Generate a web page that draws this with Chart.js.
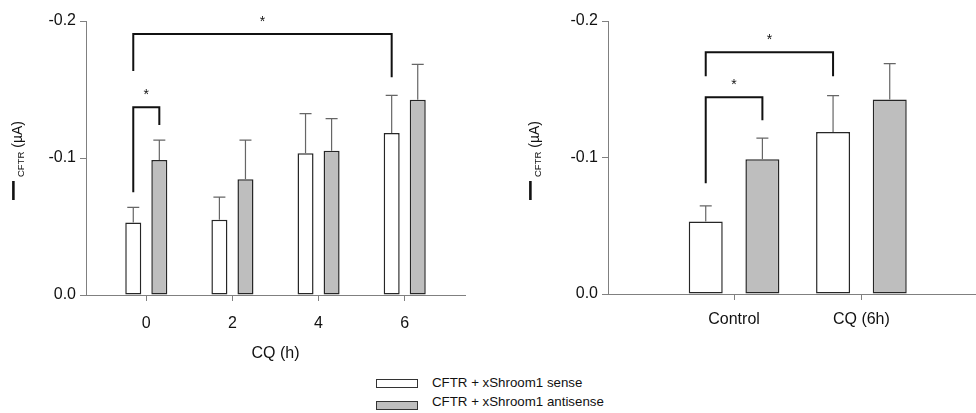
<!DOCTYPE html>
<html>
<head>
<meta charset="utf-8">
<script src="https://cdn.jsdelivr.net/npm/chart.js@4.4.1/dist/chart.umd.min.js"></script>
<style>
  body { margin: 0; width: 976px; height: 413px; overflow: hidden; background: #fff; position: relative;
         font-family: "Liberation Sans", Arial, sans-serif; }
  canvas { position: absolute; top: 0; }
  #left { left: 0; }
  #right { left: 500px; }
  .key { position: absolute; left: 376px; width: 40px; height: 7px; border: 1px solid #333; }
  .label { position: absolute; left: 432px; font-size: 13.3px; line-height: 16px; color: #111; white-space: nowrap; }
</style>
</head>
<body>
<canvas id="left" width="480" height="365"></canvas>
<canvas id="right" width="476" height="365"></canvas>
<div id="legend"></div>
<script>
// Left panel: CQ time course (values in µA, inward current is negative)
const hours = [0, 2, 4, 6];
const hourSense = [-0.053, -0.055, -0.1034, -0.1182];
const hourSenseSem = [0.011, 0.0165, 0.029, 0.0275];
const hourAntisense = [-0.0985, -0.0844, -0.1053, -0.1426];
const hourAntisenseSem = [0.0145, 0.0287, 0.0234, 0.0258];

// Right panel: control vs 6h CQ
const groups = ['Control', 'CQ (6h)'];
const groupSense = [-0.0532, -0.1186];
const groupSenseSem = [0.0114, 0.0268];
const groupAntisense = [-0.0988, -0.1425];
const groupAntisenseSem = [0.0154, 0.0263];

const seriesNames = ['CFTR + xShroom1 sense', 'CFTR + xShroom1 antisense'];
const seriesFill = ['#ffffff', '#bebebe'];
const yTicks = [-0.2, -0.1, 0];

// significance brackets: [dataset, index] of each leg, bracket top, leg ends
const hourBrackets = [
  { a: [0, 0], b: [1, 0], top: -0.137, endA: -0.075, endB: -0.124 },
  { a: [0, 0], b: [0, 3], top: -0.1905, endA: -0.1635, endB: -0.159 }
];
const groupBrackets = [
  { a: [0, 0], b: [1, 0], top: -0.1442, endA: -0.0812, endB: -0.1273 },
  { a: [0, 0], b: [0, 1], top: -0.1771, endA: -0.1595, endB: -0.1595 }
];

const FONT = '"Liberation Sans", Arial, sans-serif';
Chart.defaults.font.family = FONT;
Chart.defaults.color = '#111';

function extrasPlugin(sems, brackets, titleShift) {
  return {
    id: 'extras',
    afterDatasetsDraw(chart) {
      const ctx = chart.ctx;
      const y = chart.scales.y;
      ctx.save();
      // error bars (one side, away from zero)
      ctx.strokeStyle = '#666';
      ctx.lineWidth = 1.2;
      sems.forEach((arr, di) => {
        chart.getDatasetMeta(di).data.forEach((bar, j) => {
          const yt = y.getPixelForValue(chart.data.datasets[di].data[j].y - arr[j]);
          ctx.beginPath();
          ctx.moveTo(bar.x, bar.y);
          ctx.lineTo(bar.x, yt);
          ctx.moveTo(bar.x - 6, yt);
          ctx.lineTo(bar.x + 6, yt);
          ctx.stroke();
        });
      });
      // brackets
      ctx.strokeStyle = '#111';
      ctx.lineWidth = 2;
      ctx.fillStyle = '#111';
      ctx.font = '14px ' + FONT;
      ctx.textAlign = 'center';
      ctx.textBaseline = 'alphabetic';
      brackets.forEach(b => {
        const xa = chart.getDatasetMeta(b.a[0]).data[b.a[1]].x;
        const xb = chart.getDatasetMeta(b.b[0]).data[b.b[1]].x;
        const yt = y.getPixelForValue(b.top);
        ctx.beginPath();
        ctx.moveTo(xa, y.getPixelForValue(b.endA));
        ctx.lineTo(xa, yt);
        ctx.lineTo(xb, yt);
        ctx.lineTo(xb, y.getPixelForValue(b.endB));
        ctx.stroke();
        ctx.fillText('*', (xa + xb) / 2, yt - 8);
      });
      ctx.restore();
    },
    afterDraw(chart) {
      // y title: I with subscript CFTR, then (µA), reading bottom to top
      const ctx = chart.ctx;
      ctx.save();
      ctx.fillStyle = '#111';
      ctx.textBaseline = 'alphabetic';
      ctx.textAlign = 'center';
      ctx.font = '28px ' + FONT;
      ctx.fillText('I', titleShift + 13.5, 200);
      ctx.translate(titleShift, 177);
      ctx.rotate(-Math.PI / 2);
      ctx.textAlign = 'left';
      ctx.font = '9.5px ' + FONT;
      ctx.fillText('CFTR', 0, 23.5);
      const wSub = ctx.measureText('CFTR').width;
      ctx.font = '14px ' + FONT;
      ctx.fillText(' (µA)', wSub, 22);
      ctx.restore();
    }
  };
}

function yScale(width) {
  return {
    type: 'linear', min: -0.2, max: 0, reverse: true,
    afterBuildTicks: s => { s.ticks = yTicks.map(v => ({ value: v })); },
    afterFit: s => { s.width = width; },
    ticks: { padding: 4, font: { size: 16 }, color: '#111', callback: v => v.toFixed(1) },
    grid: { drawOnChartArea: false, tickLength: 6, color: '#808080' },
    border: { color: '#808080', width: 1 }
  };
}

function xScale(min, max, ticks, labelFn, height, pad) {
  return {
    type: 'linear', min: min, max: max, offset: false,
    afterBuildTicks: s => { s.ticks = ticks.map(v => ({ value: v })); },
    afterFit: s => { s.height = height; },
    ticks: { padding: pad, font: { size: 16 }, color: '#111', callback: labelFn, autoSkip: false, maxRotation: 0 },
    grid: { drawOnChartArea: false, offset: false, tickLength: 6, color: '#808080' },
    border: { color: '#808080', width: 1 }
  };
}

function barSet(i, xs, ys, cp, bp) {
  return {
    label: seriesNames[i],
    data: xs.map((x, j) => ({ x: x, y: ys[j] })),
    backgroundColor: seriesFill[i],
    borderColor: '#262626',
    borderWidth: 1.5,
    borderSkipped: false,
    categoryPercentage: cp,
    barPercentage: bp
  };
}

const common = {
  responsive: false,
  animation: false,
  events: [],
  devicePixelRatio: 1,
  plugins: { legend: { display: false }, tooltip: { enabled: false } }
};

const leftX = xScale(-1.4, 7.4, hours, v => String(v), 70, 13);
leftX.title = { display: true, text: 'CQ (h)', font: { size: 16 }, color: '#111', padding: { top: 0, bottom: 2 } };

new Chart(document.getElementById('left'), {
  type: 'bar',
  data: {
    datasets: [
      barSet(0, hours, hourSense, 0.605, 0.615),
      barSet(1, hours, hourAntisense, 0.605, 0.615)
    ]
  },
  options: Object.assign({}, common, {
    layout: { padding: { top: 21, right: 15, left: 0, bottom: 0 } },
    scales: { x: leftX, y: yScale(86) }
  }),
  plugins: [extrasPlugin([hourSenseSem, hourAntisenseSem], hourBrackets, 0)]
});

new Chart(document.getElementById('right'), {
  type: 'bar',
  data: {
    datasets: [
      barSet(0, [1, 2], groupSense, 0.89, 0.6),
      barSet(1, [1, 2], groupAntisense, 0.89, 0.6)
    ]
  },
  options: Object.assign({}, common, {
    layout: { padding: { top: 21, right: 0, left: 0, bottom: 0 } },
    scales: {
      x: xScale(0.01, 2.9, [1, 2], v => groups[Math.round(v) - 1], 71, 10),
      y: yScale(108)
    }
  }),
  plugins: [extrasPlugin([groupSenseSem, groupAntisenseSem], groupBrackets, 17)]
});

// shared legend under the two panels
const legend = document.getElementById('legend');
const keyTops = [379, 401], labelTops = [375, 394];
seriesNames.forEach((name, i) => {
  const key = document.createElement('div');
  key.className = 'key';
  key.style.top = keyTops[i] + 'px';
  key.style.background = seriesFill[i];
  legend.appendChild(key);
  const label = document.createElement('div');
  label.className = 'label';
  label.style.top = labelTops[i] + 'px';
  label.textContent = name;
  legend.appendChild(label);
});
</script>
</body>
</html>
